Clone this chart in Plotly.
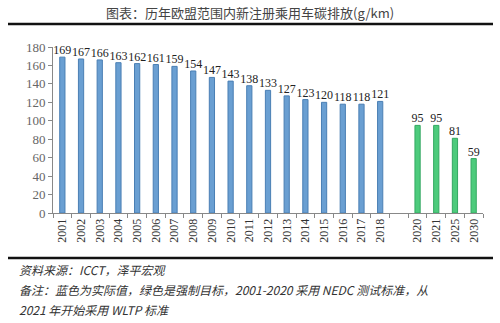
import plotly.graph_objects as go

actual_years = ["2001","2002","2003","2004","2005","2006","2007","2008","2009",
                "2010","2011","2012","2013","2014","2015","2016","2017","2018"]
actual_values = [169,167,166,163,162,161,159,154,147,143,138,133,127,123,120,118,118,121]
target_years = ["2020","2021","2025","2030"]
target_values = [95,95,81,59]
gap_label = " "
y_ticks = [0,20,40,60,80,100,120,140,160,180]

title_text = "图表：历年欧盟范围内新注册乘用车碳排放(g/km)"
note_lines = ["资料来源：ICCT，泽平宏观",
              "备注：蓝色为实际值，绿色是强制目标，2001-2020 采用 NEDC 测试标准，从",
              "2021 年开始采用 WLTP 标准"]

BLUE = "#6A9FD2"; BLUE_EDGE = "#4A7FB4"
GREEN = "#4DCB7C"; GREEN_EDGE = "#34A862"

cats = actual_years + [gap_label] + target_years
vals = actual_values + [None] + target_values
colors = [BLUE]*len(actual_years) + [BLUE] + [GREEN]*len(target_years)
edges = [BLUE_EDGE]*len(actual_years) + [BLUE_EDGE] + [GREEN_EDGE]*len(target_years)
texts = [str(v) for v in actual_values] + [""] + [str(v) for v in target_values]

serif = "'Liberation Serif', 'Times New Roman', Times, serif"
cjk = "Noto Sans CJK SC"

fig = go.Figure(go.Bar(
    x=cats, y=vals, marker=dict(color=colors, line=dict(color=edges, width=1)),
    text=texts, textposition="outside", cliponaxis=False, constraintext="none",
    textfont=dict(family=serif, size=12, color="#222222"),
    hoverinfo="skip"))

fig.update_layout(
    width=500, height=323,
    margin=dict(l=53, r=17, t=47, b=110),
    paper_bgcolor="white", plot_bgcolor="white",
    bargap=0.72, showlegend=False,
)
fig.update_xaxes(type="category", categoryorder="array", categoryarray=cats,
                 tickson="boundaries", ticks="outside", ticklen=4, tickcolor="#888888",
                 showline=True, linecolor="#888888", linewidth=1,
                 tickangle=-90, tickfont=dict(family=serif, size=12, color="#333333"),
                 showgrid=False)
fig.update_yaxes(range=[0,180], tickvals=y_ticks, ticks="outside", ticklen=4,
                 tickcolor="#888888", showline=True, linecolor="#888888", linewidth=1,
                 tickfont=dict(family=serif, size=13, color="#666666"),
                 showgrid=False, zeroline=False)

def px_x(p): return (p-53)/430
def px_y(p): return (213-p)/166

fig.add_annotation(text=title_text, x=px_x(250), y=px_y(12), xref="paper", yref="paper",
                   showarrow=False, xanchor="center", yanchor="middle",
                   font=dict(family=cjk, size=13, color="#444444"))
for yy in (24, 258):
    fig.add_shape(type="line", xref="paper", yref="paper",
                  x0=px_x(8), x1=px_x(493), y0=px_y(yy), y1=px_y(yy),
                  line=dict(color="#111111", width=2.5))
for line, yy in zip(note_lines, (269, 289, 309)):
    fig.add_annotation(text="<i>"+line+"</i>", x=px_x(17), y=px_y(yy), xref="paper", yref="paper",
                       showarrow=False, xanchor="left", yanchor="middle",
                       font=dict(family=cjk, size=12, color="#333333"))

fig.write_html("out.html")
